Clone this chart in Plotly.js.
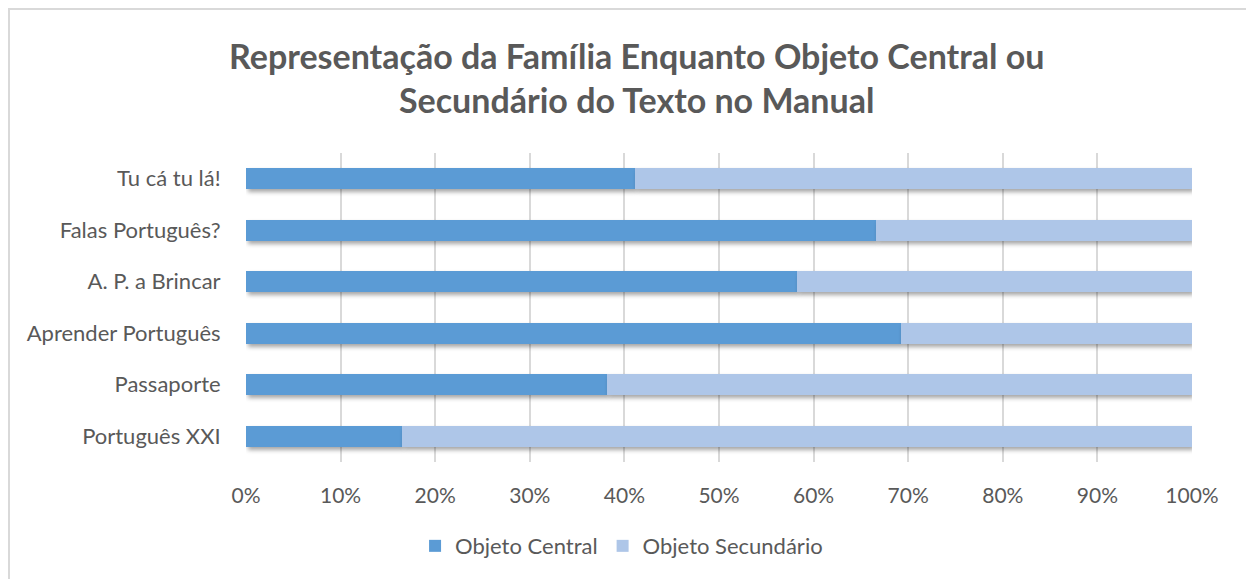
<!DOCTYPE html>
<html>
<head>
<meta charset="utf-8">
<script src="https://cdn.plot.ly/plotly-3.0.1.min.js"></script>
<style>
html,body{margin:0;padding:0;background:#fff;}
#wrap{position:relative;width:1246px;height:579px;overflow:hidden;}
#frame{position:absolute;left:8px;top:8px;width:1300px;height:700px;border-left:2px solid #d9d9d9;border-top:2px solid #d9d9d9;pointer-events:none;z-index:5;}
#chart{position:absolute;left:0;top:0;width:1246px;height:579px;}
#chart .barlayer .trace{filter: drop-shadow(2px 3px 2px rgba(0,0,0,0.35));}
</style>
</head>
<body>
<div id="wrap"><div id="chart"></div><div id="frame"></div></div>
<script>
const categories = ["Tu cá tu lá!", "Falas Português?", "A. P. a Brincar", "Aprender Português", "Passaporte", "Português XXI"];
const objetoCentral = [0.411, 0.666, 0.582, 0.692, 0.382, 0.165];
const objetoSecundario = [0.589, 0.334, 0.418, 0.308, 0.618, 0.835];
const tickVals = [0, 0.1, 0.2, 0.3, 0.4, 0.5, 0.6, 0.7, 0.8, 0.9, 1.0];
const tickText = ["0%", "10%", "20%", "30%", "40%", "50%", "60%", "70%", "80%", "90%", "100%"];

const FONT = "Lato, 'Open Sans', sans-serif";
const traces = [
  {type: "bar", orientation: "h", name: "Objeto Central", y: categories, x: objetoCentral,
   marker: {color: "#5B9BD5"}, hoverinfo: "x+y"},
  {type: "bar", orientation: "h", name: "Objeto Secundário", y: categories, x: objetoSecundario,
   marker: {color: "#AEC6E8"}, hoverinfo: "x+y"}
];
const layout = {
  width: 1246, height: 579,
  barmode: "stack", bargap: 0.59,
  paper_bgcolor: "#fff", plot_bgcolor: "#fff",
  margin: {l: 246, r: 54, t: 153, b: 117, autoexpand: false},
  font: {family: FONT, color: "#595959", size: 22},
  title: {text: "Representação da Família Enquanto Objeto Central ou<br>Secundário do Texto no Manual",
          x: 0.511, xref: "container", xanchor: "center", y: 0.881, yref: "container", yanchor: "middle",
          font: {family: FONT, size: 34, color: "#595959", weight: "bold"}},
  xaxis: {range: [0, 1], tickvals: tickVals, ticktext: tickText, showgrid: true,
          gridcolor: "#d9d9d9", gridwidth: 2, zeroline: false, showline: false,
          tickfont: {size: 21}, tickangle: 0, automargin: false,
          ticks: "outside", ticklen: 15, tickcolor: "rgba(0,0,0,0)", fixedrange: true},
  yaxis: {type: "category", autorange: "reversed", showgrid: false, zeroline: false, showline: false,
          tickfont: {size: 22}, automargin: false,
          ticks: "outside", ticklen: 20, tickcolor: "rgba(0,0,0,0)", fixedrange: true},
  legend: {orientation: "h", x: 0.397, xref: "paper", xanchor: "center", y: -0.272, yanchor: "middle",
           font: {size: 22, color: "#595959"}, traceorder: "normal"},
  showlegend: true
};
Plotly.newPlot("chart", traces, layout, {displayModeBar: false, staticPlot: true});
</script>
</body>
</html>
